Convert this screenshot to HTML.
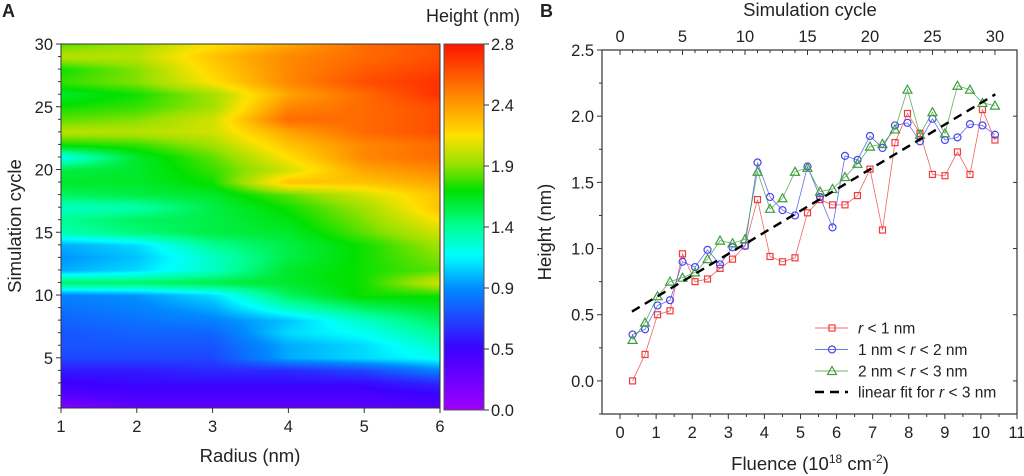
<!DOCTYPE html>
<html><head><meta charset="utf-8">
<style>
body{margin:0;background:#fff;width:1024px;height:476px;overflow:hidden;font-family:"Liberation Sans",Arial,sans-serif}
svg text{font-family:"Liberation Sans",Arial,sans-serif;fill:#222}
#hm{position:absolute;left:61px;top:44px;width:379px;height:364px}
</style></head><body>
<canvas id="hm" width="379" height="364"></canvas>
<svg id="s" width="1024" height="476" style="position:absolute;left:0;top:0"></svg>
<script>
// ===== Panel A data =====
const radii=[1,2,3,4,5,6];
const cycles=[1,2,3,4,5,6,7,8,9,10,11,12,13,14,15,16,17,18,19,20,21,22,23,24,25,26,27,28,29,30];
const heights=[
[0.1,0.3,0.3,0.3,0.3,0.35],[0.35,0.4,0.4,0.4,0.4,0.45],[0.45,0.5,0.5,0.5,0.5,0.6],[0.55,0.55,0.6,0.6,0.7,0.9],
[0.7,0.7,0.7,1.0,1.1,1.2],[0.75,0.75,0.75,1.0,1.1,1.3],[0.75,0.8,0.8,1.1,1.2,1.4],[0.8,0.85,0.9,1.05,1.3,1.5],
[0.85,0.9,1.0,1.3,1.5,1.6],[0.9,0.95,1.1,1.5,1.7,1.7],[1.5,1.5,1.55,1.6,1.7,2.0],[1.0,1.1,1.3,1.6,1.7,1.8],
[0.95,1.05,1.3,1.55,1.7,1.85],[1.0,1.1,1.4,1.55,1.7,1.9],[1.35,1.45,1.55,1.6,1.8,2.0],[1.4,1.5,1.55,1.65,1.85,2.1],
[1.3,1.35,1.55,1.7,1.9,2.2],[1.5,1.55,1.6,1.8,2.0,2.2],[1.6,1.6,1.7,2.2,2.2,2.3],[1.55,1.6,1.75,2.0,2.3,2.4],
[1.2,1.6,1.8,2.1,2.4,2.5],[1.7,1.75,1.9,2.2,2.4,2.5],[1.95,1.95,2.0,2.3,2.5,2.6],[1.8,1.85,2.0,2.5,2.5,2.6],
[1.7,1.75,1.9,2.4,2.5,2.6],[1.6,1.7,1.9,2.3,2.5,2.7],[1.75,1.85,2.1,2.4,2.6,2.7],[1.7,1.85,2.15,2.4,2.55,2.65],
[1.95,1.95,2.2,2.4,2.5,2.6],[1.8,1.9,2.1,2.3,2.5,2.6]];
const cbarLabels=["0.0","0.5","0.9","1.4","1.9","2.4","2.8"];
// ===== Panel B data =====
const cycleIdx=[1,2,3,4,5,6,7,8,9,10,11,12,13,14,15,16,17,18,19,20,21,22,23,24,25,26,27,28,29,30];
const fluencePerCycle=0.3463;
const red=[0.00,0.20,0.50,0.53,0.96,0.75,0.77,0.85,0.92,1.02,1.37,0.94,0.90,0.93,1.27,1.37,1.33,1.33,1.40,1.60,1.14,1.80,2.02,1.87,1.56,1.55,1.73,1.56,2.05,1.82];
const blue=[0.35,0.39,0.57,0.61,0.90,0.86,0.99,0.88,1.01,1.02,1.65,1.39,1.29,1.25,1.62,1.39,1.16,1.70,1.67,1.85,1.76,1.93,1.95,1.81,1.98,1.82,1.84,1.94,1.93,1.86];
const green=[0.31,0.44,0.64,0.75,0.78,0.82,0.92,1.06,1.04,1.07,1.58,1.30,1.38,1.58,1.61,1.43,1.45,1.54,1.64,1.77,1.79,1.90,2.20,1.86,2.03,1.87,2.23,2.20,2.10,2.08];
const fitSlope=0.163, fitIntercept=0.47, fitRange=[0.33,10.4];
const xTicksB=[0,1,2,3,4,5,6,7,8,9,10,11];
const yTicksB=[0.0,0.5,1.0,1.5,2.0,2.5];
const topTicks=[0,5,10,15,20,25,30];

const NS="http://www.w3.org/2000/svg";const s=document.getElementById('s');
function el(t,a,txt){const e=document.createElementNS(NS,t);for(const k in a)e.setAttribute(k,a[k]);if(txt!==undefined)e.textContent=txt;s.appendChild(e);return e;}

const stops=[[0,[160,0,255]],[1/6,[60,0,255]],[2/6,[0,140,255]],[0.42,[0,255,255]],[0.5,[0,255,150]],[0.6,[0,225,0]],[0.67,[150,225,0]],[0.75,[255,225,0]],[0.84,[255,150,0]],[1,[255,20,0]]];
function cmap(v){let t=Math.max(0,Math.min(1,v/2.8));for(let i=1;i<stops.length;i++){if(t<=stops[i][0]){const a=stops[i-1],b=stops[i];const f=(t-a[0])/(b[0]-a[0]);return a[1].map((c,j)=>Math.round(c+(b[1][j]-c)*f));}}return stops[stops.length-1][1];}

const ax0=61,ax1=440,ay0=408,ay1=44;
const xA=r=>ax0+(r-1)/(6-1)*(ax1-ax0);
const yA=c=>ay0+(c-1)/(30-1)*(ay1-ay0);
(function(){const cv=document.getElementById('hm');const ctx=cv.getContext('2d');const W=cv.width,H=cv.height;const img=ctx.createImageData(W,H);
for(let py=0;py<H;py++){const c=1+(ay0-(ay1+py))/(ay0-ay1)*29;let i=Math.min(Math.floor(c-1),28);const fy=c-1-i;
for(let px=0;px<W;px++){const r=1+px/(W-1)*5;let j=Math.min(Math.floor(r-1),4);const fx=r-1-j;
const v=(heights[i][j]*(1-fx)+heights[i][j+1]*fx)*(1-fy)+(heights[i+1][j]*(1-fx)+heights[i+1][j+1]*fx)*fy;
const col=cmap(v);const k=(py*W+px)*4;img.data[k]=col[0];img.data[k+1]=col[1];img.data[k+2]=col[2];img.data[k+3]=255;}}
ctx.putImageData(img,0,0);})();
el('rect',{x:ax0,y:ay1,width:ax1-ax0,height:ay0-ay1,fill:'none',stroke:'#333','stroke-width':1,});
radii.forEach(r=>{el('line',{x1:xA(r),x2:xA(r),y1:ay0,y2:ay0+5,stroke:'#333',});
el('text',{x:xA(r),y:ay0+24,'text-anchor':'middle','font-size':16.5,},r);});
cycles.forEach(c=>{const maj=c%5===0;el('line',{x1:ax0-(maj?5:3),x2:ax0,y1:yA(c),y2:yA(c),stroke:'#333',});
if(maj)el('text',{x:ax0-8,y:yA(c)+6,'text-anchor':'end','font-size':16.5,},c);});
el('text',{x:250,y:462,'text-anchor':'middle','font-size':18.5,},'Radius (nm)');
el('text',{x:0,y:0,transform:'translate(21,226) rotate(-90)','text-anchor':'middle','font-size':18.5,},'Simulation cycle');
el('text',{x:2,y:17,'font-size':18,'font-weight':'bold',},'A');
const cbx=444,cbw=40,cby0=410,cby1=44;
const g=el('linearGradient',{id:'cg',x1:0,y1:1,x2:0,y2:0});
for(let k=0;k<=40;k++){const v=2.8*k/40;const c=cmap(v);const st=document.createElementNS(NS,'stop');st.setAttribute('offset',k/40);st.setAttribute('stop-color',`rgb(${c})`);g.appendChild(st);}
el('rect',{x:cbx,y:cby1,width:cbw,height:cby0-cby1,fill:'url(#cg)',stroke:'#555',});
cbarLabels.forEach((l,i)=>{const y=cby0-i*(cby0-cby1)/6;el('line',{x1:cbx+cbw,x2:cbx+cbw+5,y1:y,y2:y,stroke:'#333',});
el('text',{x:cbx+cbw+7,y:y+6,'font-size':16.5,},l);});
el('text',{x:520,y:22,'text-anchor':'end','font-size':18,},'Height (nm)');

const bx0=602,bx1=1017,by0=414,by1=50,xmin=-0.5,xmax=11,ymin=-0.25,ymax=2.5;
const xB=f=>bx0+(f-xmin)/(xmax-xmin)*(bx1-bx0);
const yB=v=>by0-(v-ymin)/(ymax-ymin)*(by0-by1);
el('rect',{x:bx0,y:by1,width:bx1-bx0,height:by0-by1,fill:'none',stroke:'#333','stroke-width':1.2,});
xTicksB.forEach(t=>{el('line',{x1:xB(t),x2:xB(t),y1:by0,y2:by0+5,stroke:'#333',});
if(t<11)el('line',{x1:xB(t+0.5),x2:xB(t+0.5),y1:by0,y2:by0+3,stroke:'#333',});
el('text',{x:xB(t),y:by0+24,'text-anchor':'middle','font-size':16.5,},t);});
yTicksB.forEach(t=>{el('line',{x1:bx0-5,x2:bx0,y1:yB(t),y2:yB(t),stroke:'#333',});
el('line',{x1:bx0-3,x2:bx0,y1:yB(t-0.25),y2:yB(t-0.25),stroke:'#333',});
el('line',{x1:bx1-4,x2:bx1,y1:yB(t),y2:yB(t),stroke:'#333',});
el('text',{x:bx0-8,y:yB(t)+6,'text-anchor':'end','font-size':16.5,},t.toFixed(1));});
for(let c=0;c<=30;c++){const x=xB(c*fluencePerCycle);const maj=c%5===0;el('line',{x1:x,x2:x,y1:by1,y2:by1+(maj?5:3),stroke:'#333',});}
topTicks.forEach(c=>el('text',{x:xB(c*fluencePerCycle),y:by1-8,'text-anchor':'middle','font-size':16.5,},c));
el('text',{x:810,y:16,'text-anchor':'middle','font-size':18.5,},'Simulation cycle');
const xt=el('text',{x:810,y:470,'text-anchor':'middle','font-size':18.5,});
xt.innerHTML='Fluence (10<tspan dy="-7" font-size="12">18</tspan><tspan dy="7"> cm</tspan><tspan dy="-7" font-size="12">-2</tspan><tspan dy="7">)</tspan>';
el('text',{x:0,y:0,transform:'translate(551,232) rotate(-90)','text-anchor':'middle','font-size':18.5,},'Height (nm)');
el('text',{x:540,y:17,'font-size':18,'font-weight':'bold',},'B');

function marker(type,x,y,col,name){
 if(type==='sq')el('rect',{x:x-3,y:y-3,width:6,height:6,fill:'none',stroke:col,'stroke-width':1.2,});
 else if(type==='ci')el('circle',{cx:x,cy:y,r:3.5,fill:'none',stroke:col,'stroke-width':1.2,});
 else el('polygon',{points:`${x},${y-4.5} ${x-4.5},${y+3.5} ${x+4.5},${y+3.5}`,fill:'none',stroke:col,'stroke-width':1.2,});
}
const series=[[red,'#f03c3c','sq','r-lt-1'],[blue,'#4646f0','ci','r-1-2'],[green,'#3c9e3c','tr','r-2-3']];
series.forEach(([d,col,m,nm])=>{
 const pts=d.map((v,i)=>xB(cycleIdx[i]*fluencePerCycle)+','+yB(v)).join(' ');
 el('polyline',{points:pts,fill:'none',stroke:col,'stroke-width':0.8,'stroke-opacity':0.8,});
 d.forEach((v,i)=>marker(m,xB(cycleIdx[i]*fluencePerCycle),yB(v),col,'point-'+nm));
});
el('line',{x1:xB(fitRange[0]),y1:yB(fitIntercept+fitSlope*fitRange[0]),x2:xB(fitRange[1]),y2:yB(fitIntercept+fitSlope*fitRange[1]),stroke:'#000','stroke-width':2.4,'stroke-dasharray':'9,6',});
const leg=[['sq','#f03c3c','<tspan font-style="italic">r</tspan> &lt; 1 nm'],['ci','#4646f0','1 nm &lt; <tspan font-style="italic">r</tspan> &lt; 2 nm'],['tr','#3c9e3c','2 nm &lt; <tspan font-style="italic">r</tspan> &lt; 3 nm']];
leg.forEach(([m,col,txt],i)=>{const y=328+i*21.5;
 el('line',{x1:815,x2:848,y1:y,y2:y,stroke:col,'stroke-width':0.8,});
 marker(m,832,y,col,'legend-marker');
 const t=el('text',{x:858,y:y+5.5,'font-size':15.5,});t.innerHTML=txt;});
el('line',{x1:815,x2:848,y1:392,y2:392,stroke:'#000','stroke-width':2.4,'stroke-dasharray':'9,6',});
const lt=el('text',{x:858,y:397.5,'font-size':15.5,});lt.innerHTML='linear fit for <tspan font-style="italic">r</tspan> &lt; 3 nm';
</script>
</body></html>
